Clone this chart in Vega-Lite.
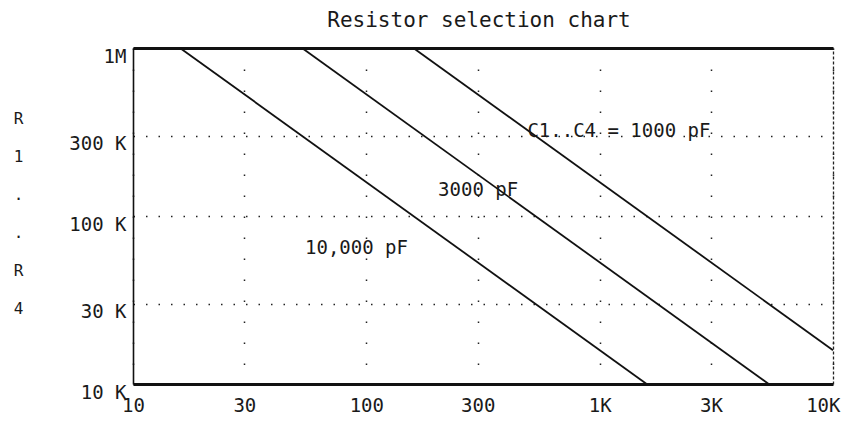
{
  "$schema": "https://vega.github.io/schema/vega-lite/v6.json",
  "width": 700,
  "height": 336,
  "autosize": {"type": "none"},
  "padding": {"left": 133, "top": 48, "right": 14, "bottom": 57},
  "background": "white",
  "title": {"text": "Resistor selection chart", "font": "DejaVu Sans Mono", "fontSize": 21, "fontWeight": "normal", "color": "#1a1a1a", "offset": 13, "dx": -4},
  "config": {
    "view": {"stroke": null},
    "axis": {
      "labelFont": "DejaVu Sans Mono", "labelFontSize": 19, "labelColor": "#1a1a1a",
      "titleFont": "DejaVu Sans Mono", "titleFontSize": 16, "titleFontWeight": "normal", "titleColor": "#1a1a1a",
      "ticks": false, "labelFlush": false, "labelOverlap": false
    }
  },
  "datasets": {
    "lines": [
      {"C": "10,000 pF", "f": 15.9, "R": 1000000},
      {"C": "10,000 pF", "f": 1590, "R": 10000},
      {"C": "3000 pF", "f": 53, "R": 1000000},
      {"C": "3000 pF", "f": 5300, "R": 10000},
      {"C": "1000 pF", "f": 159, "R": 1000000},
      {"C": "1000 pF", "f": 10000, "R": 15900}
    ],
    "labels": [
      {"text": "C1..C4 = 1000 pF", "f": 490, "R": 320000},
      {"text": "3000 pF", "f": 203, "R": 143000},
      {"text": "10,000 pF", "f": 54.6, "R": 64500}
    ]
  },
  "resolve": {"axis": {"x": "independent", "y": "independent"}},
  "layer": [
    {
      "data": {"name": "lines"},
      "mark": {"type": "line", "color": "#111", "strokeWidth": 1.8},
      "encoding": {
        "x": {
          "field": "f", "type": "quantitative",
          "scale": {"type": "log", "domain": [10, 10000], "nice": false},
          "axis": {
            "values": [10, 30, 100, 300, 1000, 3000, 10000],
            "labelExpr": "datum.value >= 1000 ? (datum.value/1000) + 'K' : '' + datum.value",
            "labelAlign": {"condition": {"test": "datum.value >= 10000", "value": "right"}, "value": "center"},
            "labelOffset": {"condition": {"test": "datum.value >= 10000", "value": 7}, "value": 0},
            "title": null, "labelPadding": 12,
            "grid": true, "gridDash": [1.5, 19.5], "gridColor": "#222", "gridWidth": 1.5, "gridOpacity": 1,
            "domainWidth": 3, "domainColor": "#111"
          }
        },
        "y": {
          "field": "R", "type": "quantitative",
          "scale": {"type": "log", "domain": [10000, 1000000], "nice": false},
          "axis": {
            "values": [10000, 30000, 100000, 300000, 1000000],
            "labelExpr": "datum.value >= 1000000 ? '1M' : (datum.value/1000) + ' K'",
            "labelPadding": 7, "labelOffset": 8,
            "grid": true, "gridDash": [1.5, 11], "gridColor": "#222", "gridWidth": 1.5, "gridOpacity": 1,
            "domainWidth": 1.6, "domainColor": "#111",
            "title": ["R", "1", ".", ".", "R", "4"],
            "titleAngle": 0, "titleAlign": "center", "titleBaseline": "top",
            "titleX": -115, "titleY": 62, "titleLineHeight": 38
          }
        },
        "detail": {"field": "C"}
      }
    },
    {
      "data": {"name": "labels"},
      "mark": {"type": "text", "align": "left", "baseline": "middle", "font": "DejaVu Sans Mono", "fontSize": 19, "color": "#1a1a1a"},
      "encoding": {
        "x": {
          "field": "f", "type": "quantitative",
          "axis": {"orient": "top", "labels": false, "grid": false, "title": null, "domainWidth": 3, "domainColor": "#111"}
        },
        "y": {
          "field": "R", "type": "quantitative",
          "axis": {"orient": "right", "labels": false, "grid": false, "title": null, "domainWidth": 1.3, "domainDash": [3, 2], "domainColor": "#222"}
        },
        "text": {"field": "text"}
      }
    }
  ]
}
